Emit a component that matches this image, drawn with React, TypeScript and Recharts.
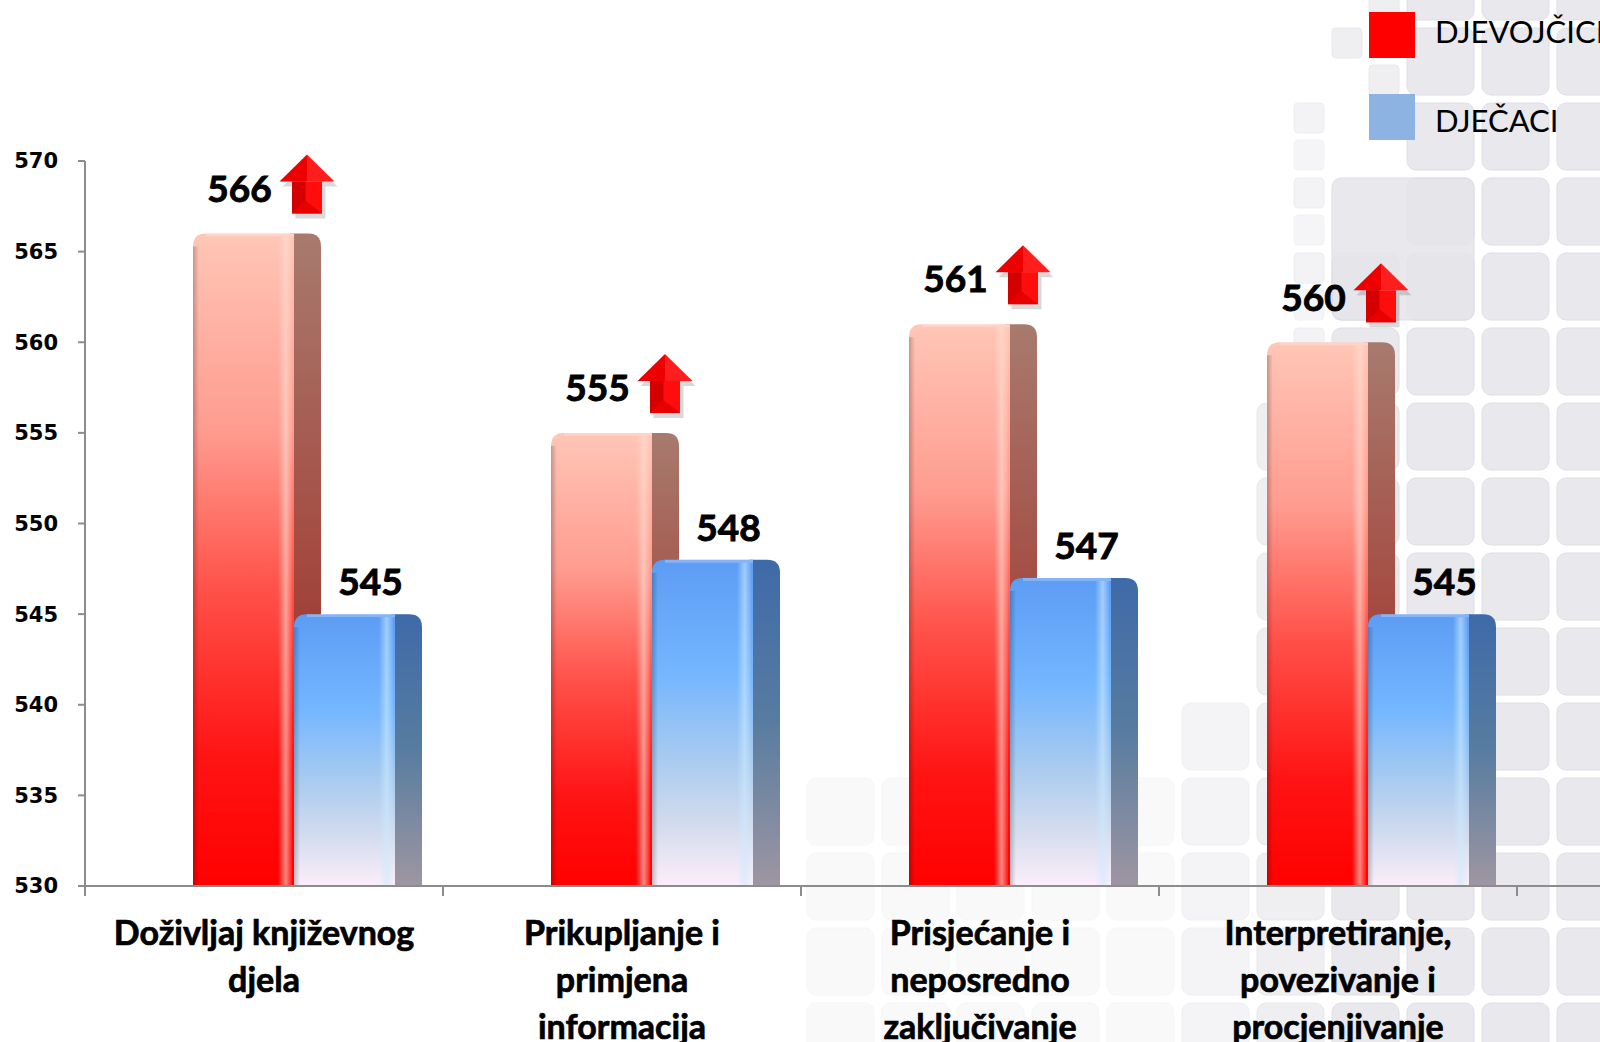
import React from "react";
import { BarChart, Bar, XAxis, YAxis, LabelList } from "recharts";

// ---------- data ----------
const categories = [
  "Doživljaj književnog\ndjela",
  "Prikupljanje i\nprimjena\ninformacija",
  "Prisjećanje i\nneposredno\nzaključivanje",
  "Interpretiranje,\npovezivanje i\nprocjenjivanje",
];
const djevojcice = [566, 555, 561, 560];
const djecaci = [545, 548, 547, 545];
const yTicks = [530, 535, 540, 545, 550, 555, 560, 565, 570];
const seriesNames = ["DJEVOJČICE", "DJEČACI"];
const seriesColors = ["#FF0000", "#8DB3E2"];

const data = categories.map((name, i) => ({
  name,
  djevojcice: djevojcice[i],
  djecaci: djecaci[i],
}));

// ---------- layout ----------
const W = 1600;
const H = 1042;
const PLOT_LEFT = 85;
const PLOT_RIGHT = 1517;
const PLOT_TOP = 161;
const PLOT_BOTTOM = 886;
const BAND = (PLOT_RIGHT - PLOT_LEFT) / categories.length;
const SHIFT = 30; // 3D projection offset of bar fronts
const DEPTH = 27; // visible side depth
const AXIS = "#8c8c8c";

type Palette = {
  front: [number, string][];
  side: [number, string][];
  hi: string;
};

const RED: Palette = {
  front: [
    [0, "#FFC6B6"],
    [0.3, "#FF9C90"],
    [0.55, "#FF5048"],
    [0.8, "#FF1414"],
    [1, "#FF0000"],
  ],
  side: [
    [0, "#A87A6E"],
    [0.5, "#A44A40"],
    [1, "#8E1A16"],
  ],
  hi: "#FFE0D4",
};

const BLUE: Palette = {
  front: [
    [0, "#5C9CF4"],
    [0.35, "#74B6FF"],
    [0.6, "#A6CAF0"],
    [0.82, "#D4DCEE"],
    [1, "#FCEEFA"],
  ],
  side: [
    [0, "#3E6AA8"],
    [0.5, "#587CA0"],
    [1, "#9E96A2"],
  ],
  hi: "#CDEBFF",
};

function make3DBar(pal: Palette, key: string) {
  return (props: any) => {
    const { x, y, width, height, index } = props;
    if (height == null || height <= 0) return <g />;
    const fx = x + SHIFT;
    const bottom = y + height;
    const r = 13;
    const id = `${key}-${index}`;
    const sx1 = fx + width + DEPTH;
    const sidePath = `M${fx + width - 4},${bottom} L${fx + width - 4},${y} L${sx1 - r},${y} Q${sx1},${y} ${sx1},${y + r} L${sx1},${bottom} Z`;
    const frontPath = `M${fx},${bottom} L${fx},${y + r} Q${fx},${y} ${fx + r},${y} L${fx + width},${y} L${fx + width},${bottom} Z`;
    return (
      <g>
        <defs>
          <linearGradient id={`${id}-f`} x1="0" y1="0" x2="0" y2="1">
            {pal.front.map(([o, c], i) => (
              <stop key={i} offset={o} stopColor={c} />
            ))}
          </linearGradient>
          <linearGradient id={`${id}-s`} x1="0" y1="0" x2="0" y2="1">
            {pal.side.map(([o, c], i) => (
              <stop key={i} offset={o} stopColor={c} />
            ))}
          </linearGradient>
          <linearGradient id={`${id}-h`} x1="0" y1="0" x2="1" y2="0">
            <stop offset={0} stopColor={pal.hi} stopOpacity={0} />
            <stop offset={0.55} stopColor={pal.hi} stopOpacity={0.6} />
            <stop offset={1} stopColor={pal.hi} stopOpacity={0.1} />
          </linearGradient>
          <linearGradient id={`${id}-l`} x1="0" y1="0" x2="1" y2="0">
            <stop offset={0} stopColor="#000" stopOpacity={0.22} />
            <stop offset={1} stopColor="#000" stopOpacity={0} />
          </linearGradient>
        </defs>
        <path d={sidePath} fill={`url(#${id}-s)`} />
        <path d={frontPath} fill={`url(#${id}-f)`} />
        <rect x={fx} y={y + r} width={6} height={Math.max(0, height - r)} fill={`url(#${id}-l)`} />
        <rect
          x={fx + width - 16}
          y={y + 3}
          width={14}
          height={Math.max(0, height - 3)}
          fill={`url(#${id}-h)`}
        />
        <rect x={fx + r} y={y} width={width - r} height={3} fill="#fff" opacity={0.25} />
      </g>
    );
  };
}

const RedBarShape = make3DBar(RED, "red");
const BlueBarShape = make3DBar(BLUE, "blue");

const LABEL_FONT = "Lato, 'Open Sans', sans-serif";

const UpArrow = ({ x, y }: { x: number; y: number }) => (
  <g transform={`translate(${x},${y})`}>
    <polygon
      points="3,32 30.5,5 58,32 46,32 46,64 16,64 16,32"
      fill="#000"
      opacity={0.15}
    />
    <polygon points="0,27 27.5,0 27.5,27" fill="#EE0000" />
    <polygon points="27.5,0 55,27 27.5,27" fill="#FF1E1E" />
    <rect x={12.5} y={27} width={30} height={32} fill="#FF0C0C" />
    <polygon points="12.5,27 26,27 26,46 12.5,59" fill="#D40000" />
    <polygon points="12.5,59 26,46 42.5,59" fill="#E80000" />
  </g>
);

const RedLabel = (props: any) => {
  const { x, y, width, value } = props;
  const cx = x + SHIFT + width / 2 - 4;
  const cy = y - 45;
  return (
    <g>
      <text
        x={cx}
        y={cy}
        dy="0.36em"
        textAnchor="middle"
        fontFamily={LABEL_FONT}
        fontWeight={700}
        fontSize={37}
        fill="#000"
        stroke="#000"
        strokeWidth={0.9}
      >
        {value}
      </text>
      <UpArrow x={cx + 40} y={cy - 34} />
    </g>
  );
};

const BlueLabel = (props: any) => {
  const { x, y, width, value } = props;
  const cx = x + SHIFT + width / 2 + 26;
  const cy = y - 32;
  return (
    <text
      x={cx}
      y={cy}
      dy="0.36em"
      textAnchor="middle"
      fontFamily={LABEL_FONT}
      fontWeight={700}
      fontSize={37}
      fill="#000"
      stroke="#000"
      strokeWidth={0.9}
    >
      {value}
    </text>
  );
};

const CategoryTick = (props: any) => {
  const { x, y, payload, index } = props;
  const lines = String(payload.value).split("\n");
  return (
    <g>
      <line x1={x + BAND / 2} x2={x + BAND / 2} y1={y} y2={y + 10} stroke={AXIS} strokeWidth={2} />
      {index === 0 && (
        <line x1={x - BAND / 2} x2={x - BAND / 2} y1={y} y2={y + 10} stroke={AXIS} strokeWidth={2} />
      )}
      <text
        x={x}
        y={y + 59}
        textAnchor="middle"
        fontFamily={LABEL_FONT}
        fontWeight={700}
        fontSize={34}
        fill="#000"
        stroke="#000"
        strokeWidth={0.7}
      >
        {lines.map((l, i) => (
          <tspan key={i} x={x} dy={i === 0 ? 0 : 47}>
            {l}
          </tspan>
        ))}
      </text>
    </g>
  );
};

// decorative slide background (rounded tiles)
const Background = () => {
  const tiles: React.ReactNode[] = [];
  const P = 75;
  const S = 67;
  let k = 0;
  const add = (x: number, y: number, s: number, op: number) => {
    tiles.push(
      <rect
        key={k++}
        x={x}
        y={y}
        width={s}
        height={s}
        rx={s > 40 ? 9 : 4}
        fill="#E5E5EA"
        stroke="#DADAE0"
        strokeWidth={1}
        opacity={op}
      />
    );
  };
  for (let row = -1; row < 14; row++) {
    const ty = 28 + row * P;
    for (let col = 0; col < 5; col++) {
      const tx = 1332 + col * P;
      if (col === 0 && row >= 1 && row <= 2) continue; // merged big tile
      if (col === 0 && row <= 0) {
        add(tx, ty, 30, 0.6);
        add(tx + 37, ty + 37, 30, 0.6);
        continue;
      }
      add(tx, ty, S, 0.85);
    }
    if (row >= 1 && row <= 4) {
      add(1257 + 37, 28 + row * P, 30, 0.45);
      add(1257 + 37, 28 + row * P + 37, 30, 0.35);
    }
    if (row >= 5) add(1257, ty, S, 0.6);
    if (row >= 9) add(1182, ty, S, 0.4);
    if (row >= 10) {
      for (let c = 0; c < 5; c++) add(807 + c * P, ty, S, 0.22);
    }
  }
  add(1332, 178, 142, 0.85);
  return (
    <svg width={W} height={H} style={{ position: "absolute", left: 0, top: 0 }}>
      {tiles}
    </svg>
  );
};

const LegendOverlay = () => (
  <svg width={W} height={H} style={{ position: "absolute", left: 0, top: 0, pointerEvents: "none" }}>
    {seriesNames.map((n, i) => (
      <g key={n}>
        <rect x={1369} y={12 + i * 82} width={46} height={46} fill={seriesColors[i]} />
        <text x={1435} y={43 + i * 89} fontFamily={LABEL_FONT} fontSize={31} fill="#000">
          {n}
        </text>
      </g>
    ))}
    <line x1={PLOT_RIGHT} x2={W} y1={PLOT_BOTTOM} y2={PLOT_BOTTOM} stroke={AXIS} strokeWidth={2} />
  </svg>
);

export default function App() {
  return (
    <div
      style={{
        position: "absolute",
        left: 0,
        top: 0,
        width: W,
        height: H,
        overflow: "hidden",
        background: "#fff",
      }}
    >
      <Background />
      <div style={{ position: "absolute", left: 0, top: 0 }}>
        <BarChart
          width={W}
          height={H}
          data={data}
          margin={{ top: PLOT_TOP, right: W - PLOT_RIGHT, bottom: 0, left: 0 }}
          barGap={0}
          barSize={101}
        >
          <XAxis
            dataKey="name"
            interval={0}
            tickLine={false}
            tickSize={0}
            tickMargin={0}
            axisLine={{ stroke: AXIS, strokeWidth: 2 }}
            tick={<CategoryTick />}
            height={H - PLOT_BOTTOM}
          />
          <YAxis
            domain={[530, 570]}
            ticks={yTicks}
            allowDataOverflow
            width={PLOT_LEFT}
            tickSize={7}
            tickMargin={20}
            axisLine={{ stroke: AXIS, strokeWidth: 2 }}
            tickLine={{ stroke: AXIS, strokeWidth: 2 }}
            tick={{
              fill: "#000",
              fontSize: 21,
              fontWeight: 700,
              fontFamily: "'DejaVu Sans', Verdana, sans-serif",
            }}
          />
          <Bar dataKey="djevojcice" name={seriesNames[0]} isAnimationActive={false} shape={RedBarShape}>
            <LabelList dataKey="djevojcice" content={<RedLabel />} />
          </Bar>
          <Bar dataKey="djecaci" name={seriesNames[1]} isAnimationActive={false} shape={BlueBarShape}>
            <LabelList dataKey="djecaci" content={<BlueLabel />} />
          </Bar>
        </BarChart>
      </div>
      <LegendOverlay />
    </div>
  );
}
